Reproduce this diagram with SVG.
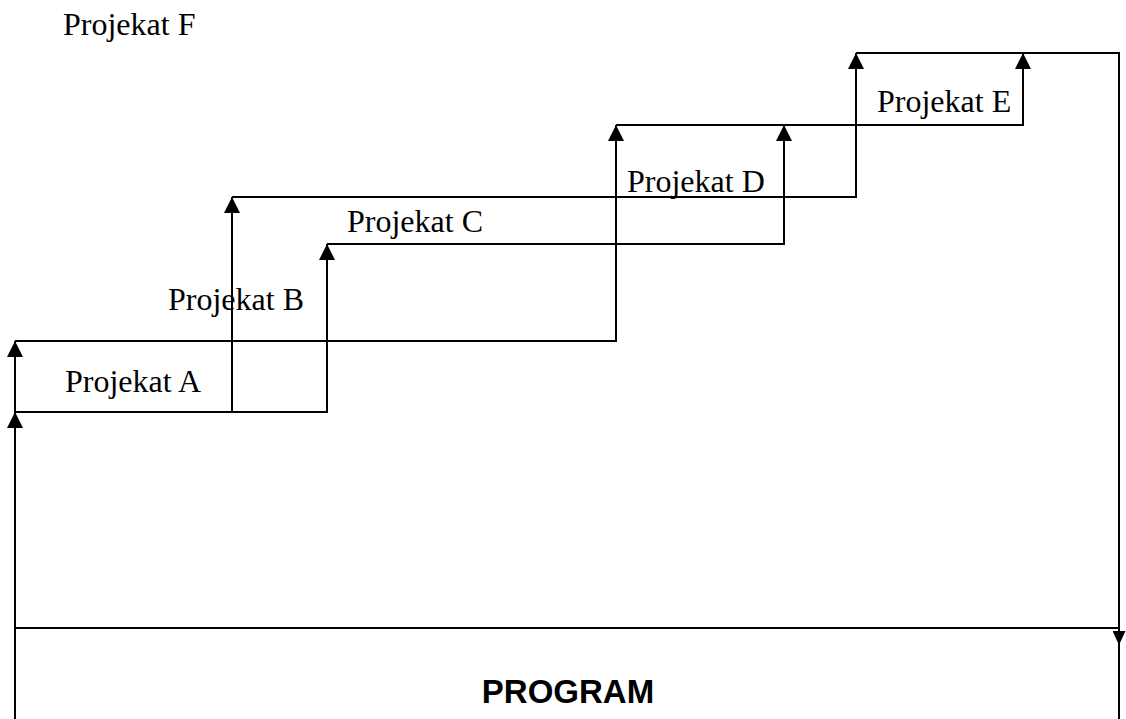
<svg xmlns="http://www.w3.org/2000/svg" width="1126" height="719" viewBox="0 0 1126 719">
  <defs>
    <style>
      .lbl { font-family: "Liberation Serif", "Times New Roman", serif; font-size: 32px; fill: #000; }
      .prog { font-family: "Liberation Sans", Arial, sans-serif; font-size: 33px; font-weight: bold; fill: #000; }
      .wire { fill: none; stroke: #000; stroke-width: 2; }
      .arr { marker-end: url(#head); }
      .arr-down { marker-end: url(#headSmall); }
    </style>
    <marker id="head" viewBox="0 0 16 16" refX="16" refY="8" markerWidth="16" markerHeight="16" markerUnits="userSpaceOnUse" orient="auto">
      <path d="M0,0 L16,8 L0,16 z" fill="#000"/>
    </marker>
    <marker id="headSmall" viewBox="0 0 14 13" refX="14" refY="6.5" markerWidth="14" markerHeight="13" markerUnits="userSpaceOnUse" orient="auto">
      <path d="M0,0 L14,6.5 L0,13 z" fill="#000"/>
    </marker>
  </defs>
  <rect width="1126" height="719" fill="#fff"/>

  <!-- connectors: the stepped project flow -->
  <g id="connectors">
    <path class="wire arr" d="M15,719 V412"/>
    <path class="wire arr" d="M15,412 V341"/>
    <path class="wire arr" d="M15,412 H327 V244"/>
    <path class="wire arr" d="M232,412 V197"/>
    <path class="wire arr" d="M15,341 H616 V125"/>
    <path class="wire arr" d="M327,244 H784 V125"/>
    <path class="wire arr" d="M232,197 H856 V53"/>
    <path class="wire arr" d="M616,125 H1023 V53"/>
    <path class="wire arr-down" d="M856,53 H1119 V645"/>
    <path class="wire" d="M1119,645 V719"/>
  </g>

  <!-- nodes -->
  <g id="projekat-f"><text class="lbl" x="63" y="35">Projekat F</text></g>
  <g id="projekat-a"><text class="lbl" x="65" y="392">Projekat A</text></g>
  <g id="projekat-b"><text class="lbl" x="168" y="310">Projekat B</text></g>
  <g id="projekat-c"><text class="lbl" x="347" y="232">Projekat C</text></g>
  <g id="projekat-d"><text class="lbl" x="627" y="192">Projekat D</text></g>
  <g id="projekat-e"><text class="lbl" x="877" y="112">Projekat E</text></g>
  <g id="program">
    <path class="wire" d="M15,628 H1119"/>
    <text class="prog" x="568" y="703" text-anchor="middle">PROGRAM</text>
  </g>
</svg>
